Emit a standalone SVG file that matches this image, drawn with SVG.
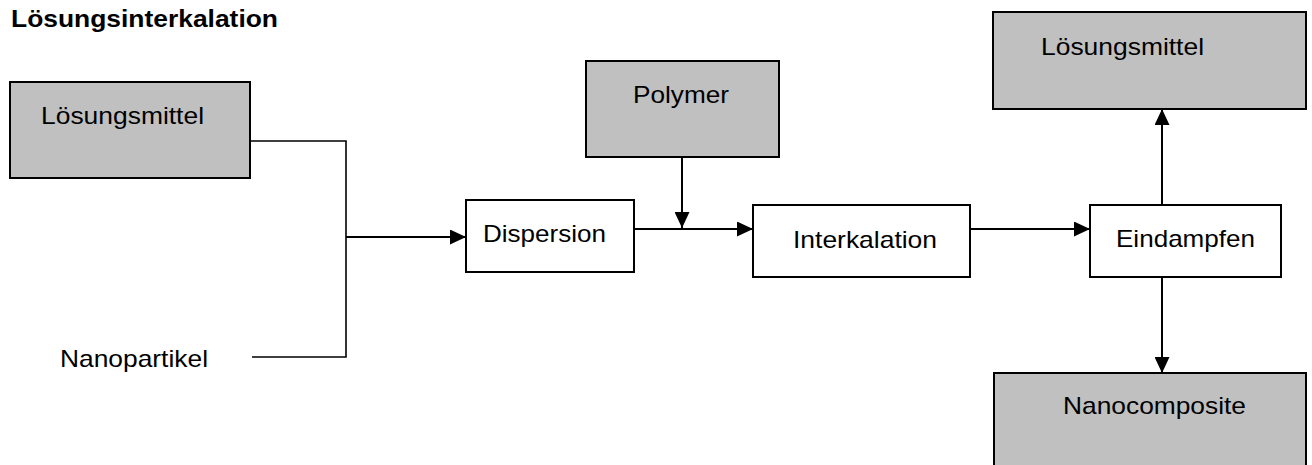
<svg xmlns="http://www.w3.org/2000/svg" width="1312" height="465" viewBox="0 0 1312 465">
  <style>
    text { font-family: "Liberation Sans", Arial, sans-serif; font-size: 24px; fill: #000; }
    .title { font-weight: bold; }
    .box { stroke: #000; stroke-width: 2; }
    .grey { fill: #c0c0c0; }
    .white { fill: #fff; }
    .line { fill: none; stroke: #000; stroke-width: 1.6; }
    .arrow { fill: none; stroke: #000; stroke-width: 2; marker-end: url(#head); }
  </style>
  <defs>
    <marker id="head" viewBox="0 0 16 15" refX="16" refY="7.5" markerWidth="16" markerHeight="15" markerUnits="userSpaceOnUse" orient="auto">
      <path d="M0,0 L16,7.5 L0,15 Z" fill="#000"/>
    </marker>
  </defs>

  <rect width="1312" height="465" fill="#fff"/>

  <text class="title" x="11" y="27" textLength="267" lengthAdjust="spacingAndGlyphs">Lösungsinterkalation</text>

  <!-- connectors -->
  <g id="connectors">
    <polyline class="line" points="250,141 346,141 346,357 252,357"/>
    <line class="arrow" x1="346" y1="237" x2="466" y2="237"/>
    <line class="arrow" x1="634" y1="229" x2="753" y2="229"/>
    <line class="arrow" x1="682" y1="157" x2="682" y2="228"/>
    <line class="arrow" x1="970" y1="229" x2="1090" y2="229"/>
    <line class="arrow" x1="1162" y1="205" x2="1162" y2="109"/>
    <line class="arrow" x1="1162" y1="277" x2="1162" y2="373"/>
  </g>

  <g id="loesungsmittel-in">
    <rect class="box grey" x="10" y="82" width="240" height="96"/>
    <text x="41" y="124" textLength="163" lengthAdjust="spacingAndGlyphs">Lösungsmittel</text>
  </g>

  <g id="nanopartikel">
    <text x="60" y="367" textLength="148" lengthAdjust="spacingAndGlyphs">Nanopartikel</text>
  </g>

  <g id="dispersion">
    <rect class="box white" x="466" y="200" width="168" height="72"/>
    <text x="483" y="242" textLength="123" lengthAdjust="spacingAndGlyphs">Dispersion</text>
  </g>

  <g id="polymer">
    <rect class="box grey" x="586" y="61" width="193" height="96"/>
    <text x="633" y="103" textLength="96" lengthAdjust="spacingAndGlyphs">Polymer</text>
  </g>

  <g id="interkalation">
    <rect class="box white" x="753" y="205" width="217" height="72"/>
    <text x="793" y="248" textLength="144" lengthAdjust="spacingAndGlyphs">Interkalation</text>
  </g>

  <g id="eindampfen">
    <rect class="box white" x="1090" y="205" width="191" height="72"/>
    <text x="1116" y="247" textLength="139" lengthAdjust="spacingAndGlyphs">Eindampfen</text>
  </g>

  <g id="loesungsmittel-out">
    <rect class="box grey" x="993" y="12" width="313" height="97"/>
    <text x="1041" y="55" textLength="163" lengthAdjust="spacingAndGlyphs">Lösungsmittel</text>
  </g>

  <g id="nanocomposite">
    <rect class="box grey" x="994" y="373" width="312" height="100"/>
    <text x="1063" y="414" textLength="183" lengthAdjust="spacingAndGlyphs">Nanocomposite</text>
  </g>
</svg>
